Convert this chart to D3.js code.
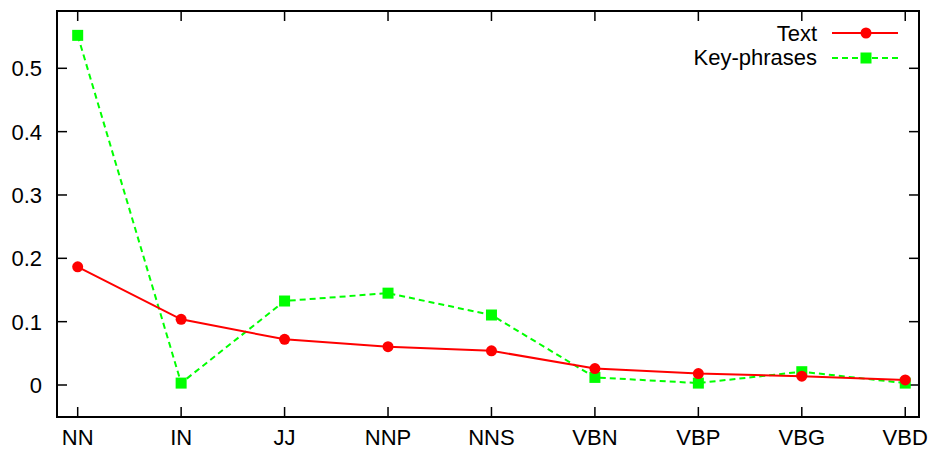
<!DOCTYPE html>
<html>
<head>
<meta charset="utf-8">
<script src="https://cdn.jsdelivr.net/npm/d3@7"></script>
<style>
  html, body { margin: 0; padding: 0; background: #fff; }
  svg text { font-family: "Liberation Sans", Arial, Helvetica, sans-serif; font-size: 22px; fill: #000; }
</style>
</head>
<body>
<svg id="chart" width="930" height="450"></svg>
<script>
// Part-of-speech tags along the x axis
const categories = ["NN", "IN", "JJ", "NNP", "NNS", "VBN", "VBP", "VBG", "VBD"];
// Relative frequency of each tag in full text
const textValues = [0.1865, 0.1037, 0.0721, 0.0605, 0.054, 0.026, 0.018, 0.014, 0.008];
// Relative frequency of each tag in key-phrases
const keyValues = [0.552, 0.003, 0.1326, 0.145, 0.1105, 0.012, 0.003, 0.021, 0.003];
const yTicks = [0, 0.1, 0.2, 0.3, 0.4, 0.5];
const seriesNames = ["Text", "Key-phrases"];

(function () {
  const svg = d3.select("#chart");
  const plotLeft = 57, plotRight = 919, plotTop = 11, plotBottom = 417;

  const x = d3.scaleLinear().domain([-0.2, 8.133]).range([plotLeft, plotRight]);
  const y = d3.scaleLinear().domain([0, 0.5]).range([385, 68.3]);

  const tickLen = 10;
  const frame = svg.append("g");

  // y ticks (mirrored on the right side)
  yTicks.forEach(t => {
    frame.append("line").attr("x1", plotLeft).attr("x2", plotLeft + tickLen)
      .attr("y1", y(t)).attr("y2", y(t)).attr("stroke", "#000").attr("stroke-width", 1.5);
    frame.append("line").attr("x1", plotRight).attr("x2", plotRight - tickLen)
      .attr("y1", y(t)).attr("y2", y(t)).attr("stroke", "#000").attr("stroke-width", 1.5);
    svg.append("text").attr("x", 42).attr("y", y(t) + 8).attr("text-anchor", "end").text(String(t));
  });

  // x ticks (mirrored on the top side)
  categories.forEach((c, i) => {
    frame.append("line").attr("x1", x(i)).attr("x2", x(i))
      .attr("y1", plotBottom).attr("y2", plotBottom - tickLen).attr("stroke", "#000").attr("stroke-width", 1.5);
    frame.append("line").attr("x1", x(i)).attr("x2", x(i))
      .attr("y1", plotTop).attr("y2", plotTop + tickLen).attr("stroke", "#000").attr("stroke-width", 1.5);
    svg.append("text").attr("x", x(i)).attr("y", 445).attr("text-anchor", "middle").text(c);
  });

  frame.append("rect").attr("x", plotLeft).attr("y", plotTop)
    .attr("width", plotRight - plotLeft).attr("height", plotBottom - plotTop)
    .attr("fill", "none").attr("stroke", "#000").attr("stroke-width", 2);

  const line = d3.line().x((d, i) => x(i)).y(d => y(d));

  // Key-phrases series (green, dashed, squares)
  svg.append("path").datum(keyValues).attr("d", line)
    .attr("fill", "none").attr("stroke", "#00ff00").attr("stroke-width", 2)
    .attr("stroke-dasharray", "6,4");
  svg.selectAll("rect.kp").data(keyValues).enter().append("rect")
    .attr("class", "kp")
    .attr("x", (d, i) => x(i) - 5.5).attr("y", d => y(d) - 5.5)
    .attr("width", 11).attr("height", 11).attr("fill", "#00ff00");

  // Text series (red, solid, circles)
  svg.append("path").datum(textValues).attr("d", line)
    .attr("fill", "none").attr("stroke", "#ff0000").attr("stroke-width", 2);
  svg.selectAll("circle.tx").data(textValues).enter().append("circle")
    .attr("class", "tx")
    .attr("cx", (d, i) => x(i)).attr("cy", d => y(d)).attr("r", 5.5)
    .attr("fill", "#ff0000");

  // Legend
  const lx1 = 832, lx2 = 898, lm = 866;
  svg.append("text").attr("x", 817).attr("y", 41).attr("text-anchor", "end").text(seriesNames[0]);
  svg.append("line").attr("x1", lx1).attr("x2", lx2).attr("y1", 33).attr("y2", 33)
    .attr("stroke", "#ff0000").attr("stroke-width", 2);
  svg.append("circle").attr("cx", lm).attr("cy", 33).attr("r", 5.5).attr("fill", "#ff0000");

  svg.append("text").attr("x", 817).attr("y", 64.5).attr("text-anchor", "end").text(seriesNames[1]);
  svg.append("line").attr("x1", lx1).attr("x2", lx2).attr("y1", 58).attr("y2", 58)
    .attr("stroke", "#00ff00").attr("stroke-width", 2).attr("stroke-dasharray", "6,4");
  svg.append("rect").attr("x", lm - 5.5).attr("y", 58 - 5.5).attr("width", 11).attr("height", 11)
    .attr("fill", "#00ff00");
})();
</script>
</body>
</html>
